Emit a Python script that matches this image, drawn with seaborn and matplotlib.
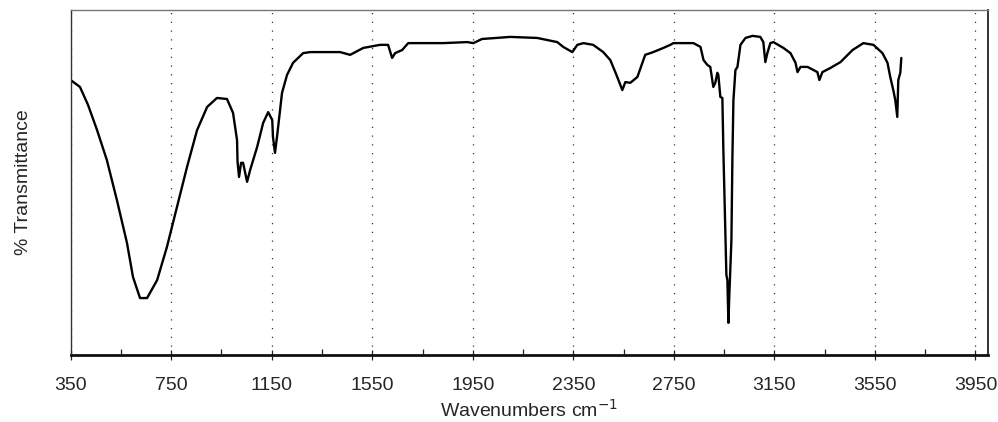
import matplotlib
matplotlib.use("Agg")
import matplotlib.pyplot as plt
import numpy as np
import pandas as pd
import seaborn as sns
from matplotlib.ticker import FixedLocator

# IR spectrum (wavenumber, % transmittance)
wavenumber = [350, 387, 419, 455, 494, 534, 574, 598, 626, 654,
              694, 733, 773, 813, 853, 893, 932, 972, 996, 1012,
              1014, 1020, 1028, 1036, 1052, 1064, 1092, 1116, 1136, 1152,
              1155, 1163, 1171, 1191, 1211, 1235, 1275, 1303, 1422, 1462,
              1514, 1581, 1613, 1629, 1641, 1669, 1693, 1832, 1928, 1952,
              1987, 2099, 2206, 2286, 2310, 2346, 2366, 2390, 2429, 2469,
              2497, 2517, 2537, 2545, 2557, 2577, 2605, 2636, 2668, 2708,
              2736, 2748, 2828, 2856, 2868, 2883, 2895, 2907, 2915, 2923,
              2927, 2935, 2943, 2947, 2951, 2959, 2963, 2967, 2971, 2973,
              2979, 2983, 2987, 2995, 3003, 3015, 3035, 3063, 3094, 3106,
              3114, 3122, 3134, 3146, 3186, 3214, 3234, 3242, 3254, 3282,
              3321, 3329, 3341, 3373, 3413, 3461, 3504, 3544, 3580, 3600,
              3611, 3623, 3631, 3639, 3643, 3651, 3655]
transmittance = [79.7, 77.7, 72.5, 65.2, 56.5, 44.9, 32.5, 22.6, 16.5, 16.5,
                 21.7, 31.3, 42.9, 54.5, 65.2, 71.9, 74.5, 74.2, 70.2, 62.3,
                 56.0, 51.6, 55.7, 55.7, 50.2, 53.6, 60.3, 67.3, 70.4, 68.1,
                 63.2, 58.6, 63.2, 76.0, 81.2, 84.7, 87.5, 87.8, 87.8, 87.0,
                 89.0, 89.9, 89.9, 86.1, 87.5, 88.4, 90.4, 90.4, 90.7, 90.4,
                 91.6, 92.2, 91.9, 90.7, 89.3, 87.8, 89.9, 90.4, 89.9, 87.8,
                 85.5, 82.0, 78.3, 76.8, 79.1, 78.9, 80.6, 87.0, 87.8, 89.0,
                 89.9, 90.4, 90.4, 89.3, 85.5, 84.1, 83.5, 77.7, 78.9, 81.8,
                 81.2, 74.8, 74.5, 59.4, 47.3, 23.2, 21.7, 9.3, 18.0, 21.7,
                 33.3, 57.4, 73.9, 82.6, 83.5, 89.9, 91.9, 92.5, 92.2, 90.7,
                 84.9, 87.5, 90.4, 90.7, 89.0, 87.5, 84.7, 82.0, 83.5, 83.5,
                 82.0, 79.7, 82.0, 83.2, 84.9, 88.4, 90.4, 89.9, 87.5, 84.7,
                 80.6, 76.8, 73.9, 69.0, 79.7, 81.8, 86.1]
major_ticks = [350, 750, 1150, 1550, 1950, 2350, 2750, 3150, 3550, 3950]
minor_ticks = [550, 950, 1350, 1750, 2150, 2550, 2950, 3350, 3750]

df = pd.DataFrame({"wavenumber": wavenumber, "transmittance": transmittance})

sns.set_style("white")
plt.rcParams['font.family'] = ['Liberation Sans', 'DejaVu Sans']

fig = plt.figure(figsize=(9.98, 4.22), dpi=100)
ax = fig.add_axes([0.0708, 0.1588, 0.9192, 0.8175])

sns.lineplot(data=df, x="wavenumber", y="transmittance", ax=ax,
             color="black", linewidth=1.7, estimator=None, sort=False)

ax.set_xlim(350, 4000)
ax.set_ylim(0, 100)
ax.set_xticks(major_ticks)
ax.xaxis.set_minor_locator(FixedLocator(minor_ticks))
ax.set_yticks([])

ax.grid(False)
for t in major_ticks:
    ax.axvline(t, color="#333333", linestyle=(0, (1, 6)), linewidth=0.9, zorder=0)

ax.tick_params(axis="x", which="major", direction="inout", length=7,
               width=0.9, color="#222222", labelsize=14, pad=12, bottom=True)
ax.tick_params(axis="x", which="minor", direction="in", length=4,
               width=0.9, color="#222222", bottom=True)

ax.spines["bottom"].set_linewidth(2.0)
ax.spines["bottom"].set_color("#111111")
ax.spines["left"].set_linewidth(1.0)
ax.spines["left"].set_color("#333333")
ax.spines["top"].set_linewidth(1.0)
ax.spines["top"].set_color("#777777")
ax.spines["right"].set_linewidth(1.3)
ax.spines["right"].set_color("#222222")

ax.set_xlabel("Wavenumbers cm$^{-1}$", fontsize=14, labelpad=4)
ax.set_ylabel("% Transmittance", fontsize=14, labelpad=28)

fig.savefig("out.png", dpi=100)
